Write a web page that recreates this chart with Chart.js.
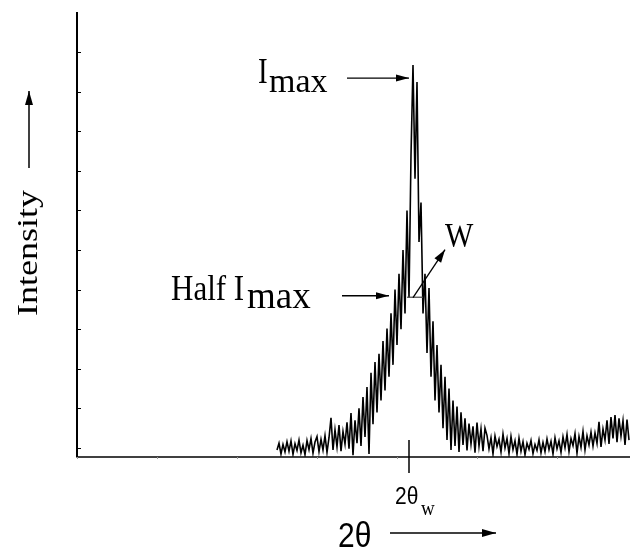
<!DOCTYPE html>
<html>
<head>
<meta charset="utf-8">
<script src="https://cdn.jsdelivr.net/npm/chart.js@4.4.1/dist/chart.umd.min.js"></script>
<style>
  html, body { margin: 0; padding: 0; background: #fff; }
  canvas { display: block; }
</style>
</head>
<body>
<canvas id="c" width="630" height="550"></canvas>
<script>
// ---- data ----
const thetaStart = 35.0;      // first sampled 2θ
const thetaStep = 0.25;       // sampling interval of 2θ
const intensity = [
  -0.5, 1.2, -1.5, 0.9, -1.0, 1.6, -0.8, 1.8, -1.6, 1.1, -0.6, 2.0, -1.2, 0.7, -1.7, 1.9, -0.4,
  2.4, -1.3, 1.5, 2.9, -0.9, 2.2, -0.5, 3.1, -1.1, 2.6,
  7.6, -0.5, 4.6, 0.3, 5.8, -0.8, 4.2, 1.0, 6.5, -0.2,
  8.8, -1.8, 7.0, 1.2, 10.0, 0.5, 12.9, 2.8, 15.4, -1.5,
  19.0, 6.0, 21.7, 9.0, 23.8, 12.0, 27.0, 14.5, 30.2, 18.0, 34.0, 21.0, 40.0, 26.0, 44.0,
  30.0, 50.0, 34.0, 60.0, 38.0, 74.0, 96.7, 68.0, 92.4, 52.0, 62.0,
  34.0, 44.0, 24.0, 40.4, 18.0, 32.0, 12.0, 26.0, 9.0, 21.0, 5.0, 18.0, 2.0, 15.0, -0.5, 12.0,
  0.5, 10.5, -1.0, 9.0, 0.8, 7.5, -0.6, 6.2, 1.0, 5.5, -1.2, 6.4, 0.5, 4.8, -0.8, 5.0,
  3.2, -0.2, 2.6, -1.5, 3.0, 0.4, 2.2, -1.0, 3.5, 0.0, 2.4, -1.4, 2.9, -0.4, 1.8, -1.6, 2.5,
  -0.8, 1.6, -1.7, 1.2, -0.3, 1.9, -1.4, 0.9, -0.6, 2.1, -1.2, 1.4, -0.9, 2.3, -0.4, 1.7, -1.5, 2.6, -0.2, 1.8,
  -1.1, 2.8, 0.1, 3.4, -0.9, 2.4, 0.6, 3.6, -1.3, 2.9, 0.2, 4.2, -0.5, 3.1, 0.8,
  4.0, 0.5, 3.8, 1.2, 6.6, 0.3, 4.8, 2.0, 7.0, 1.0, 7.8, 2.4, 8.3, 1.5, 7.5, 3.0, 6.9, 0.8, 7.2, 2.0
];
const xTicks = [10, 20, 30, 40, 50, 60, 70];
const yTicks = [0, 10, 20, 30, 40, 50, 60, 70, 80, 90, 100];
const peakTheta = 52.0;   // 2θ of I_max
const peakI = 96.7;       // I_max
const halfI = 38.2;       // "Half I_max" level
const wLeft = 51.25, wRight = 53.25;  // ends of the width bar W
const thetaW = 51.5;      // 2θ_w

const points = intensity.map((v, i) => ({ x: thetaStart + i * thetaStep, y: v }));

function arrow(ctx, x1, y1, x2, y2, len, half) {
  ctx.beginPath(); ctx.moveTo(x1, y1); ctx.lineTo(x2, y2); ctx.stroke();
  const a = Math.atan2(y2 - y1, x2 - x1);
  ctx.beginPath();
  ctx.moveTo(x2, y2);
  ctx.lineTo(x2 - len * Math.cos(a) + half * Math.sin(a), y2 - len * Math.sin(a) - half * Math.cos(a));
  ctx.lineTo(x2 - len * Math.cos(a) - half * Math.sin(a), y2 - len * Math.sin(a) + half * Math.cos(a));
  ctx.closePath(); ctx.fill();
}
function stretchedText(ctx, text, x, y, font, sy) {
  ctx.save();
  ctx.translate(x, y);
  ctx.scale(1, sy);
  ctx.font = font;
  ctx.textBaseline = 'alphabetic';
  ctx.textAlign = 'left';
  ctx.fillText(text, 0, 0);
  ctx.restore();
}

const decor = {
  id: 'decor',
  afterDraw(chart) {
    const ctx = chart.ctx, xs = chart.scales.x, ys = chart.scales.y, ca = chart.chartArea;
    ctx.save();
    ctx.strokeStyle = '#000'; ctx.fillStyle = '#000';
    // axes
    ctx.lineWidth = 2;
    ctx.beginPath(); ctx.moveTo(ca.left, ca.top); ctx.lineTo(ca.left, ca.bottom + 0.5); ctx.stroke();
    ctx.lineWidth = 1.5;
    ctx.beginPath(); ctx.moveTo(ca.left, ca.bottom); ctx.lineTo(ca.right, ca.bottom); ctx.stroke();
    // y minor ticks (inside)
    ctx.lineWidth = 1;
    yTicks.forEach(v => {
      const y = Math.round(ys.getPixelForValue(v)) + 0.5;
      ctx.beginPath(); ctx.moveTo(ca.left, y); ctx.lineTo(ca.left + 4, y); ctx.stroke();
    });
    ctx.strokeStyle = '#999';
    xTicks.forEach(v => {
      const x = Math.round(xs.getPixelForValue(v)) + 0.5;
      ctx.beginPath(); ctx.moveTo(x, ca.bottom); ctx.lineTo(x, ca.bottom + 2); ctx.stroke();
    });
    ctx.strokeStyle = '#000';
    // 2θw tick
    const xw = xs.getPixelForValue(thetaW);
    ctx.lineWidth = 1.5;
    ctx.beginPath(); ctx.moveTo(xw, ca.bottom - 17); ctx.lineTo(xw, ca.bottom + 16); ctx.stroke();

    // I_max arrow
    const px = xs.getPixelForValue(peakTheta), py = ys.getPixelForValue(peakI);
    ctx.lineWidth = 1.3;
    arrow(ctx, px - 66, py + 13, px - 4, py + 13, 13, 3.5);
    // Half I_max arrow
    const hy = ys.getPixelForValue(halfI);
    arrow(ctx, px - 71, hy - 1, px - 24, hy - 1, 13, 3.5);
    // width bar
    ctx.strokeStyle = '#444'; ctx.lineWidth = 1.2;
    ctx.beginPath(); ctx.moveTo(xs.getPixelForValue(wLeft), hy + 0.5); ctx.lineTo(xs.getPixelForValue(wRight), hy + 0.5); ctx.stroke();
    ctx.strokeStyle = '#000'; ctx.lineWidth = 1.3;
    arrow(ctx, px, hy + 1, px + 32, hy - 47, 13, 4);

    // texts
    const serif = '"Liberation Serif", "Times New Roman", serif';
    const sans = '"Liberation Sans", Arial, sans-serif';
    stretchedText(ctx, 'I', px - 155, py + 18, '29px ' + serif, 1.2);
    stretchedText(ctx, 'max', px - 144, py + 27, '34px ' + serif, 1.0);
    stretchedText(ctx, 'Half I', 171, hy + 3, '31px ' + serif, 1.15);
    stretchedText(ctx, 'max', 247, hy + 11, '37px ' + serif, 1.0);
    stretchedText(ctx, 'W', px + 32, hy - 51, '30px ' + serif, 1.15);

    // x label
    stretchedText(ctx, '2\u03b8', xw - 14, 504, '21px ' + sans, 1.15);
    stretchedText(ctx, 'w', xw + 12, 515, '19px ' + serif, 1.1);
    stretchedText(ctx, '2\u03b8', 338, 547, '30px ' + sans, 1.15);
    ctx.lineWidth = 1.5;
    arrow(ctx, 390, 533, 496, 533, 14, 4);

    // y label
    ctx.save();
    ctx.translate(37, 316);
    ctx.scale(1, 1.2);
    ctx.rotate(-Math.PI / 2);
    ctx.font = '30px ' + serif;
    ctx.textBaseline = 'alphabetic';
    ctx.fillText('Intensity', 0, 0);
    ctx.restore();
    arrow(ctx, 29, 168, 29, 91, 14, 4);
    ctx.restore();
  }
};

new Chart(document.getElementById('c'), {
  type: 'scatter',
  data: {
    datasets: [{
      data: points,
      showLine: true,
      borderColor: '#000',
      borderWidth: 1.6,
      pointRadius: 0,
      tension: 0
    }]
  },
  options: {
    responsive: false,
    animation: false,
    devicePixelRatio: 1,
    layout: { padding: { left: 77, right: 0, top: 12, bottom: 93 } },
    plugins: { legend: { display: false }, tooltip: { enabled: false } },
    scales: {
      x: { type: 'linear', min: 10, max: 79.125, display: false },
      y: { type: 'linear', min: -2.27, max: 110.1, display: false }
    }
  },
  plugins: [decor]
});
</script>
</body>
</html>
